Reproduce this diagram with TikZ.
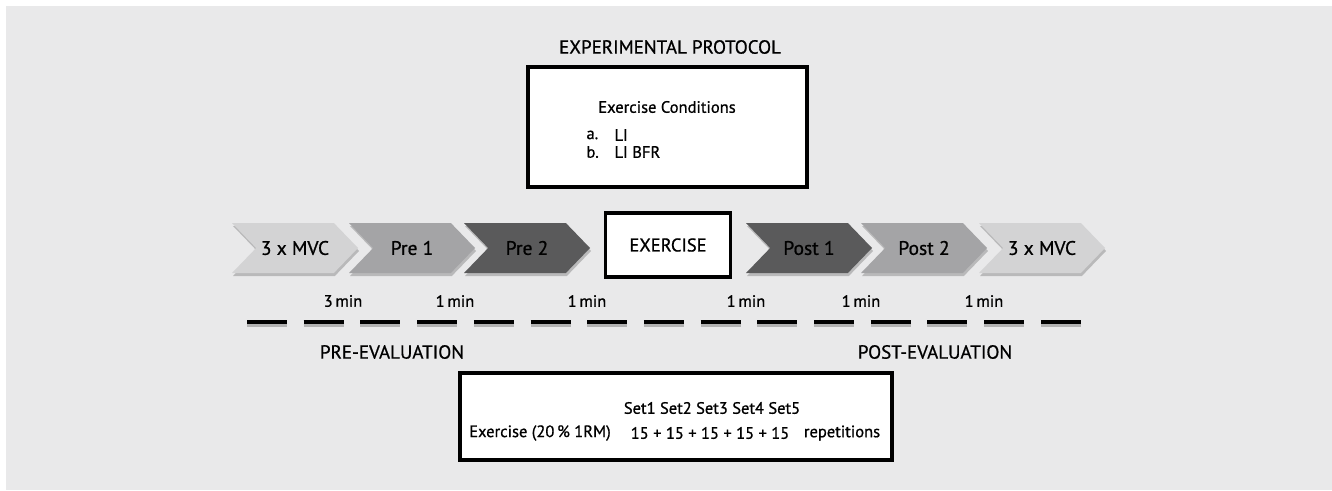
\documentclass[tikz,border=0pt]{standalone}
\usepackage{fontspec}
\setmainfont{PT Sans}[FakeBold=0.8]
\usepackage{xcolor}
\usetikzlibrary{shapes.symbols,shadows}

\definecolor{bggray}{HTML}{E9E9EA}
\definecolor{lightstep}{HTML}{D3D3D4}
\definecolor{midstep}{HTML}{A4A4A6}
\definecolor{darkstep}{HTML}{5A5A5B}

\begin{document}
\begin{tikzpicture}[x=1pt, y=-1pt,
                        phase/.style={signal, signal to=east, signal from=west,
                            signal pointer angle=92, minimum width=126pt, minimum height=50pt,
                            inner sep=0pt, font=\fontsize{19.5}{21}\selectfont,
                            drop shadow={shadow xshift=1pt, shadow yshift=-3pt, opacity=0.45}},
                        framebox/.style={draw=black, line width=3.5pt, fill=white, inner sep=0pt,
                            drop shadow={shadow xshift=1pt, shadow yshift=-2pt, opacity=0.3}},
                        gap/.style={font=\fontsize{16.5}{18}\selectfont},
                        txt/.style={font=\fontsize{16.5}{18}\selectfont},
                        heading/.style={font=\fontsize{19}{21}\selectfont}]
        \useasboundingbox (0,0) rectangle (1332,490);
        \fill[white] (0,0) rectangle (1332,490);
        \fill[bggray] (6,6) rectangle (1332,490);

        % top part
        \node[heading] (title) at (670,47) {EXPERIMENTAL PROTOCOL};
        \node[framebox, minimum width=279pt, minimum height=120pt] (cond) at (667.5,127) {};
        \node[txt] (condhead) at (667,107) {Exercise Conditions};
        \node[txt, anchor=west] (conda) at (583,135) {a.};
        \node[txt, anchor=west] (condb) at (583,152) {b.};
        \node[txt, anchor=west] (condli) at (611,135) {LI};
        \node[txt, anchor=west] (condbfr) at (611,152) {LI BFR};

        % phases
        \node[phase, fill=lightstep] (mvc1) at (295,248) {3 x MVC};
        \node[phase, fill=midstep] (pre1) at (412,248) {Pre 1};
        \node[phase, fill=darkstep] (pre2) at (527,248) {Pre 2};
        \node[framebox, minimum width=125pt, minimum height=64pt, font=\fontsize{18.5}{20}\selectfont]
            (exer) at (668,245) {EXERCISE};
        \node[phase, fill=darkstep] (post1) at (809,248) {Post 1};
        \node[phase, fill=midstep] (post2) at (924,248) {Post 2};
        \node[phase, fill=lightstep] (mvc2) at (1042,248) {3 x MVC};

        % rest intervals
        \node[gap] (gapa) at (343,301) {3\,min};
        \node[gap] (gapb) at (455,301) {1\,min};
        \node[gap] (gapc) at (587,301) {1\,min};
        \node[gap] (gapd) at (746,301) {1\,min};
        \node[gap] (gape) at (861,301) {1\,min};
        \node[gap] (gapf) at (984,301) {1\,min};

        \coordinate (linestart) at (247,322);
        \coordinate (lineend) at (1081,322);
        \draw[black!30, line width=3pt, dash pattern=on 40pt off 16.7pt]
            ([yshift=-3.5pt]linestart) -- ([yshift=-3.5pt]lineend);
        \draw[black, line width=4pt, dash pattern=on 40pt off 16.7pt] (linestart) -- (lineend);

        \node[heading] (preeval) at (392,352) {PRE-EVALUATION};
        \node[heading] (posteval) at (935,352) {POST-EVALUATION};

        % exercise sets
        \node[framebox, minimum width=432pt, minimum height=87pt] (sets) at (676,416.5) {};
        \node[txt] (setnames) at (712,408) {Set1 Set2 Set3 Set4 Set5};
        \node[txt] (setload) at (540,433) {Exercise (20\,\% 1RM)};
        \node[txt] (setreps) at (710,433) {15 + 15 + 15 + 15 + 15};
        \node[txt] (setunit) at (842,433) {repetitions};
    \end{tikzpicture}
\end{document}
